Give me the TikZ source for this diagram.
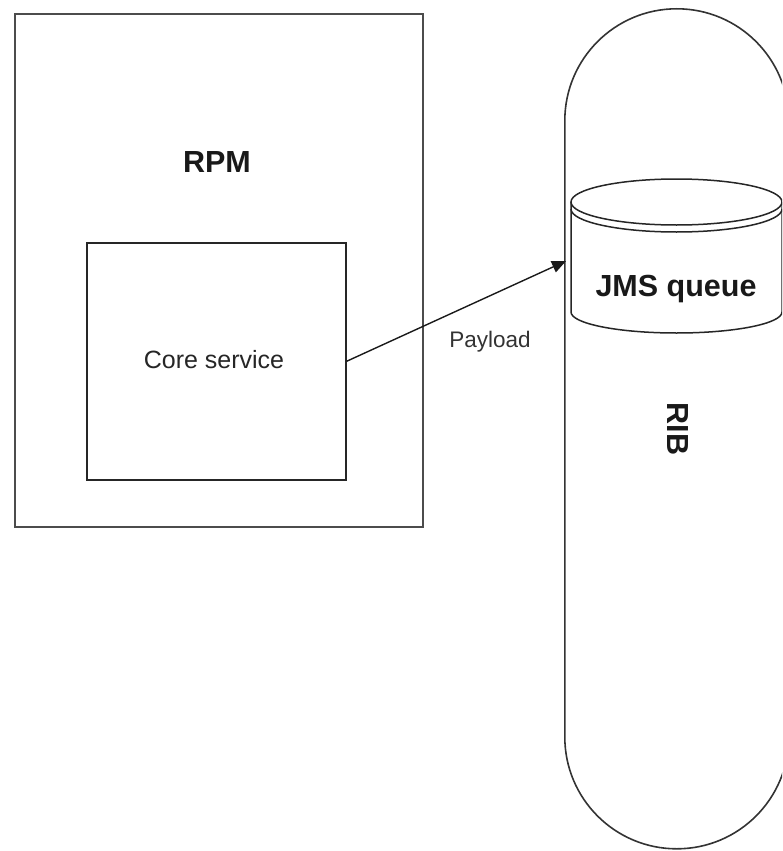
\documentclass[tikz,border=0pt]{standalone}
\usepackage{fontspec}
\setmainfont{Liberation Sans}
\usetikzlibrary{arrows.meta}
\begin{document}
\begin{tikzpicture}[x=1pt,y=-1pt,
  outerbox/.style={draw=black!70, line width=2pt, inner sep=0pt},
  innerbox/.style={draw=black!85, line width=1.6pt, inner sep=0pt},
  stad/.style={draw=black!80, line width=1.6pt, inner sep=0pt, rounded corners=111.9pt},
  cyl/.style={draw=black!85, line width=1.5pt},
  boldlbl/.style={font=\fontsize{30.5}{36}\selectfont\bfseries, text=black!90, inner sep=0pt},
  plainlbl/.style={font=\fontsize{25}{30}\selectfont, text=black!85, inner sep=0pt},
  smalllbl/.style={font=\fontsize{22.5}{27}\selectfont, text=black!80, inner sep=0pt},
  arrowline/.style={draw=black!90, line width=1.4pt, -{Triangle[length=14pt,width=12pt]}}
]
\useasboundingbox (0,0) rectangle (782,851);
\clip (0,0) rectangle (782,851);

% RPM box
\node[outerbox, minimum width=408pt, minimum height=513pt, anchor=north west] (rpm) at (14,13) {};
\node[boldlbl, anchor=base] (rpmlbl) at (217,172) {RPM};

% Core service box
\node[innerbox, minimum width=259pt, minimum height=237pt, anchor=north west] (core) at (86,242) {};
\node[plainlbl, anchor=base] (corelbl) at (214,368) {Core service};

% RIB stadium
\node[stad, minimum width=224pt, minimum height=840pt, anchor=north west] (rib) at (564,8) {};
\node[boldlbl, rotate=-90] (riblbl) at (678,429) {RIB};

% JMS queue cylinder
\filldraw[cyl, fill=white] (571,202) -- (571,312) arc[start angle=180, end angle=360, x radius=105.5, y radius=-21] -- (782,202);
\draw[cyl] (676.5,202) ellipse[x radius=105.5, y radius=23];
\draw[cyl] (571,209) arc[start angle=180, end angle=360, x radius=105.5, y radius=-23];
\node[boldlbl, anchor=base] (jms) at (676,296) {JMS queue};

% Payload connector
\coordinate (tip) at (566,261);
\draw[arrowline] (core.east) -- (tip);
\node[smalllbl, anchor=base] (payload) at (490,347) {Payload};
\end{tikzpicture}
\end{document}
